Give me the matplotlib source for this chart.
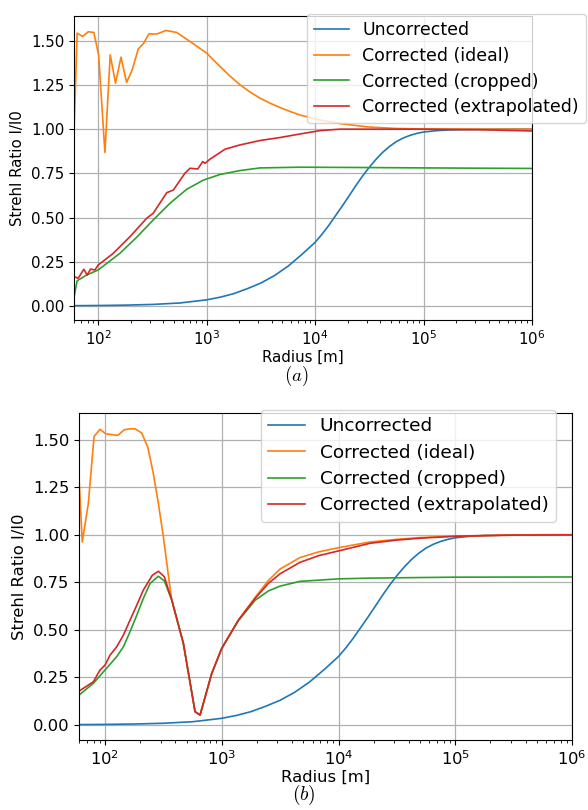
import numpy as np
import matplotlib
matplotlib.use("Agg")
import matplotlib.pyplot as plt

# ---------------- data (log10 of radius in m, Strehl ratio) ----------------
labels = ["Uncorrected", "Corrected (ideal)", "Corrected (cropped)", "Corrected (extrapolated)"]
colors = ["#1f77b4", "#ff7f0e", "#2ca02c", "#d62728"]

# Uncorrected (same in both panels)
unc_logr = [1.778, 2.0, 2.25, 2.5, 2.75, 3.0, 3.125, 3.25, 3.375, 3.5, 3.625, 3.75, 3.875,
            4.0, 4.0625, 4.125, 4.1875, 4.25, 4.3125, 4.375, 4.4375, 4.5, 4.5625, 4.625, 4.6875,
            4.75, 4.8125, 4.875, 4.9375, 5.0, 5.125, 5.25, 5.5, 5.75, 6.0]
unc_val = [0.002, 0.003, 0.005, 0.009, 0.017, 0.035, 0.05, 0.07, 0.098, 0.13, 0.172, 0.225, 0.29,
           0.36, 0.405, 0.455, 0.51, 0.565, 0.622, 0.68, 0.735, 0.785, 0.83, 0.87, 0.903,
           0.93, 0.95, 0.965, 0.976, 0.984, 0.992, 0.996, 0.999, 1.0, 1.0]

# Panel (a)
a_ideal_logr = [1.778, 1.806, 1.856, 1.908, 1.96, 2.004, 2.062, 2.111, 2.16, 2.21, 2.262, 2.314,
                2.369, 2.416, 2.468, 2.539, 2.625, 2.724, 2.847, 3.0, 3.124, 3.216, 3.308, 3.4,
                3.493, 3.585, 3.678, 3.77, 3.862, 4.0, 4.125, 4.25, 4.5, 4.75, 5.0, 5.5, 6.0]
a_ideal_val = [1.0, 1.543, 1.524, 1.551, 1.547, 1.42, 0.868, 1.42, 1.26, 1.407, 1.264, 1.336,
               1.453, 1.483, 1.539, 1.538, 1.558, 1.547, 1.496, 1.43, 1.354, 1.3, 1.251, 1.21,
               1.175, 1.147, 1.122, 1.1, 1.08, 1.058, 1.043, 1.03, 1.012, 1.004, 1.001, 1.0, 1.0]

a_crop_logr = [1.778, 1.806, 1.893, 2.0, 2.2, 2.355, 2.508, 2.662, 2.816, 2.97, 3.124, 3.308,
               3.493, 3.862, 4.5, 5.0, 6.0]
a_crop_val = [0.053, 0.143, 0.175, 0.204, 0.298, 0.389, 0.487, 0.581, 0.660, 0.712, 0.744, 0.766,
              0.781, 0.785, 0.783, 0.781, 0.778]

a_extr_logr = [1.778, 1.815, 1.868, 1.898, 1.93, 1.97, 2.0, 2.139, 2.293, 2.447, 2.508, 2.632,
               2.693, 2.8, 2.847, 2.918, 2.964, 2.985, 3.03, 3.124, 3.17, 3.308, 3.493, 3.678,
               3.862, 4.047, 4.23, 5.0, 5.5, 6.0]
a_extr_val = [0.166, 0.157, 0.208, 0.175, 0.209, 0.204, 0.232, 0.298, 0.392, 0.496, 0.525, 0.641,
              0.656, 0.751, 0.779, 0.775, 0.817, 0.807, 0.83, 0.868, 0.887, 0.911, 0.936, 0.953,
              0.973, 0.992, 1.0, 1.0, 0.997, 0.99]

# Panel (b)
b_ideal_logr = [1.777, 1.805, 1.857, 1.906, 1.957, 2.006, 2.109, 2.165, 2.214, 2.257, 2.314, 2.366,
                2.414, 2.457, 2.5, 2.548, 2.572, 2.671, 2.771, 2.814, 2.914, 3.0, 3.142, 3.285,
                3.4, 3.5, 3.67, 3.83, 4.0, 4.27, 4.5, 4.7, 5.0, 5.5, 6.0]
b_ideal_val = [1.303, 0.962, 1.164, 1.517, 1.554, 1.531, 1.522, 1.552, 1.557, 1.557, 1.535, 1.461,
               1.321, 1.164, 0.988, 0.761, 0.656, 0.429, 0.07, 0.052, 0.271, 0.403, 0.551, 0.67,
               0.76, 0.82, 0.88, 0.91, 0.932, 0.962, 0.976, 0.985, 0.993, 0.999, 1.0]

b_crop_logr = [1.777, 1.9, 2.0, 2.1, 2.157, 2.214, 2.272, 2.328, 2.386, 2.457, 2.508, 2.572,
               2.671, 2.771, 2.814, 2.914, 3.0, 3.142, 3.285, 3.4, 3.5, 3.67, 4.0, 4.27, 4.7,
               5.0, 6.0]
b_crop_val = [0.157, 0.219, 0.289, 0.359, 0.411, 0.49, 0.577, 0.665, 0.744, 0.782, 0.757, 0.656,
              0.429, 0.07, 0.052, 0.271, 0.403, 0.548, 0.655, 0.705, 0.73, 0.755, 0.768, 0.772,
              0.775, 0.777, 0.778]

b_extr_logr = [1.777, 1.9, 1.957, 2.0, 2.043, 2.1, 2.157, 2.214, 2.272, 2.328, 2.405, 2.457,
               2.508, 2.572, 2.671, 2.771, 2.814, 2.914, 3.0, 3.142, 3.285, 3.4, 3.5, 3.67, 3.83,
               4.0, 4.27, 4.5, 4.7, 5.0, 5.5, 6.0]
b_extr_val = [0.178, 0.227, 0.289, 0.315, 0.367, 0.411, 0.472, 0.551, 0.63, 0.709, 0.787, 0.808,
              0.779, 0.656, 0.429, 0.07, 0.052, 0.271, 0.403, 0.551, 0.665, 0.745, 0.795, 0.855,
              0.89, 0.915, 0.955, 0.972, 0.982, 0.992, 0.998, 0.999]

panels = [
    dict(series=[(unc_logr, unc_val), (a_ideal_logr, a_ideal_val),
                 (a_crop_logr, a_crop_val), (a_extr_logr, a_extr_val)],
         rect=[74, 16, 532, 320], fs=10.8, lfs=12.5, leg_anchor=(586, 14), caption="$(a)$",
         cap_xy=(296, 376), cfs=13.5),
    dict(series=[(unc_logr, unc_val), (b_ideal_logr, b_ideal_val),
                 (b_crop_logr, b_crop_val), (b_extr_logr, b_extr_val)],
         rect=[79, 413, 572, 740], fs=11.8, lfs=13.3, leg_anchor=(556, 410), caption="$(b)$",
         cap_xy=(304, 795), cfs=14),
]

W, H = 588, 810
plt.rcParams["mathtext.fontset"] = "cm"
fig = plt.figure(figsize=(W / 100, H / 100), dpi=100)

for p in panels:
    l, t, r, b = p["rect"]
    ax = fig.add_axes([l / W, 1 - b / H, (r - l) / W, (b - t) / H])
    for (lr, v), lab, c in zip(p["series"], labels, colors):
        ax.plot(10 ** np.asarray(lr), v, color=c, lw=1.2, label=lab)
    ax.set_xscale("log")
    ax.set_xlim(10 ** 1.777, 1e6)
    ax.set_ylim(-0.079, 1.64)
    ax.set_yticks([0, 0.25, 0.5, 0.75, 1.0, 1.25, 1.5])
    ax.yaxis.set_major_formatter(matplotlib.ticker.FormatStrFormatter("%.2f"))
    ax.grid(True, which="major", color="#b0b0b0", lw=0.9)
    ax.tick_params(labelsize=p["fs"])
    ax.set_xlabel("Radius [m]", fontsize=p["fs"], labelpad=1)
    ax.set_ylabel("Strehl Ratio I/I0", fontsize=p["fs"])
    lx, ly = p["leg_anchor"]
    ax.legend(loc="upper right", bbox_to_anchor=(lx / W, 1 - ly / H),
              bbox_transform=fig.transFigure, borderaxespad=0, fontsize=p["lfs"],
              labelspacing=0.45, borderpad=0.4)
    cx, cy = p["cap_xy"]
    fig.text(cx / W, 1 - cy / H, p["caption"], ha="center", va="center", fontsize=p["cfs"])

fig.savefig("out.png", dpi=100)
